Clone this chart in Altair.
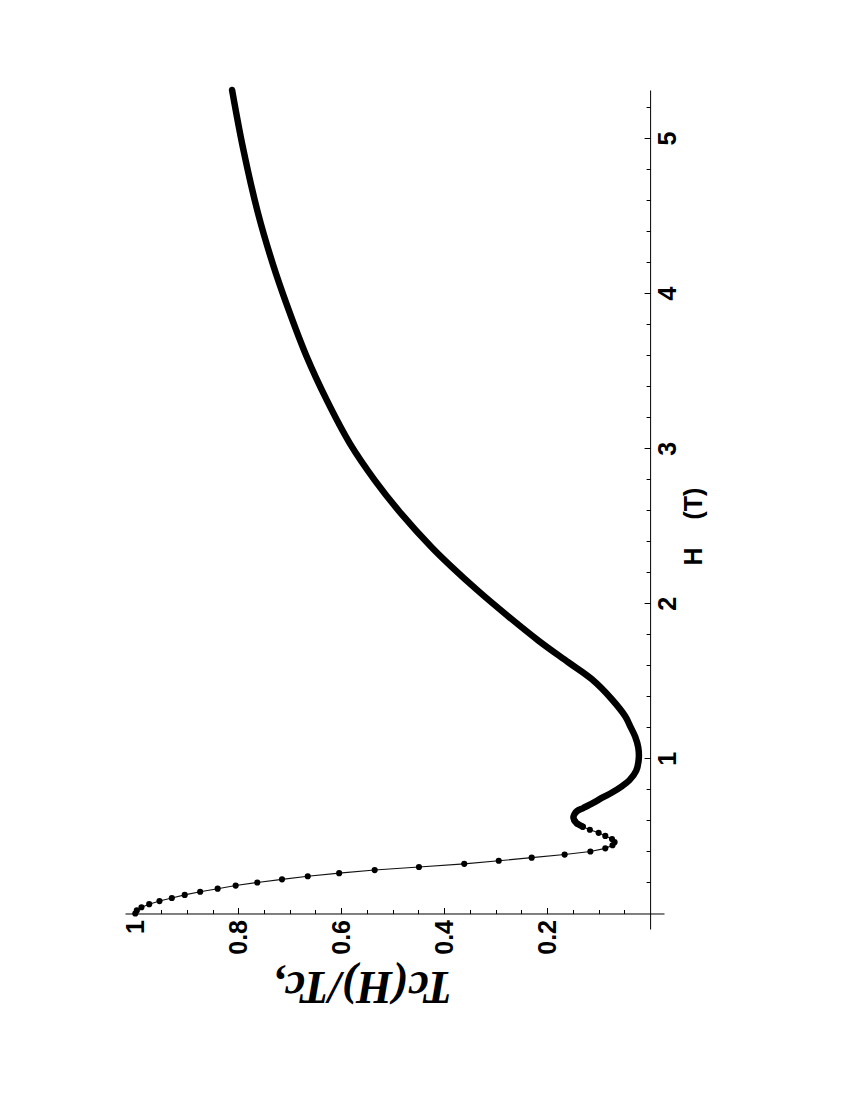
import altair as alt
import pandas as pd

# Individually visible sample points (low field part)
H_SPARSE = [0.00, 0.02, 0.04, 0.06, 0.08, 0.10, 0.12, 0.14, 0.16, 0.18, 0.20,
            0.22, 0.24, 0.26, 0.28, 0.30, 0.32, 0.34, 0.36, 0.38, 0.40, 0.42,
            0.44, 0.46, 0.48, 0.50, 0.52, 0.54, 0.56, 0.58, 0.60]
TC_SPARSE = [1.000, 0.997, 0.988, 0.973, 0.953, 0.929, 0.904, 0.874, 0.840, 0.805, 0.763,
             0.715, 0.665, 0.604, 0.535, 0.449, 0.361, 0.294, 0.230, 0.166, 0.116, 0.087,
             0.073, 0.069, 0.074, 0.087, 0.100, 0.117, 0.131, 0.142, 0.147]

# Densely sampled part (drawn as a thick continuous trace)
H_DENSE = [0.56, 0.58, 0.60, 0.62, 0.64, 0.66, 0.68, 0.70, 0.72, 0.75, 0.78, 0.82,
           0.86, 0.92, 1.00, 1.07, 1.14, 1.21, 1.27, 1.38, 1.51, 1.62, 1.76, 1.92,
           2.08, 2.24, 2.36, 2.58, 2.79, 3.03, 3.31, 3.59, 3.91, 4.19, 4.52, 4.94, 5.31]
TC_DENSE = [0.131, 0.142, 0.147, 0.149, 0.147, 0.142, 0.130, 0.118, 0.107, 0.091, 0.074, 0.055,
            0.040, 0.027, 0.022, 0.023, 0.029, 0.039, 0.048, 0.074, 0.113, 0.159, 0.217, 0.277,
            0.334, 0.387, 0.424, 0.484, 0.534, 0.583, 0.628, 0.667, 0.704, 0.733, 0.762, 0.791, 0.812]

TC_LABELS = [0.2, 0.4, 0.6, 0.8, 1.0]
TC_TICKS = [0.05, 0.10, 0.15, 0.20, 0.25, 0.30, 0.35, 0.40, 0.45, 0.50,
            0.55, 0.60, 0.65, 0.70, 0.75, 0.80, 0.85, 0.90, 0.95, 1.00]
H_LABELS = [1, 2, 3, 4, 5]
H_TICKS = [0.2, 0.4, 0.6, 0.8, 1.0, 1.2, 1.4, 1.6, 1.8, 2.0, 2.2, 2.4, 2.6,
           2.8, 3.0, 3.2, 3.4, 3.6, 3.8, 4.0, 4.2, 4.4, 4.6, 4.8, 5.0, 5.2]

sparse = pd.DataFrame({"H": H_SPARSE, "Tc": TC_SPARSE})
dense = pd.DataFrame({"H": H_DENSE, "Tc": TC_DENSE})

W, HGT = 539, 839
TC_MIN, TC_MAX = -0.027, 1.02
H_MIN, H_MAX = -0.1, 5.31
x_scale = alt.Scale(domain=[TC_MIN, TC_MAX], reverse=True, nice=False, zero=False)
y_scale = alt.Scale(domain=[H_MIN, H_MAX], nice=False, zero=False)

# pixel position of the axes crossing (Tc=0, H=0)
x0 = (TC_MAX - 0) / (TC_MAX - TC_MIN) * W
y0 = (H_MAX - 0) / (H_MAX - H_MIN) * HGT

LABEL_FONT = "Liberation Sans"
NB = "\u00a0"

axis_tc_labels = alt.Axis(
    orient="bottom", offset=-(HGT - y0), values=TC_LABELS, ticks=False, tickSize=0,
    domain=True, domainColor="black", domainWidth=1, grid=False,
    labelExpr="format(datum.value, '~g')",
    labelAngle=270, labelAlign="right", labelBaseline="middle", labelPadding=6,
    labelFont=LABEL_FONT, labelFontSize=25, labelFontWeight="bold", labelColor="black",
    labelFlush=False, labelOverlap=False, labelBound=False,
    title="Tc(H)/Tc,", titleAngle=180, titleX=362 - 125, titleY=985 - (90 + y0),
    titleAlign="center", titleBaseline="middle", titleFont="Liberation Serif",
    titleFontSize=46, titleFontStyle="italic", titleFontWeight="bold", titleColor="black",
)
axis_h_labels = alt.Axis(
    orient="right", offset=-(W - x0), values=H_LABELS, ticks=False, tickSize=0,
    domain=True, domainColor="black", domainWidth=1, grid=False,
    labelAngle=270, labelAlign="center", labelBaseline="top", labelPadding=5,
    labelFont=LABEL_FONT, labelFontSize=25, labelFontWeight="bold", labelColor="black",
    labelFlush=False, labelOverlap=False, labelBound=False,
    title="H" + NB * 4 + "(T)", titleAngle=270, titleX=693 - (125 + x0), titleY=526 - 90,
    titleAlign="center", titleBaseline="middle", titleFont=LABEL_FONT,
    titleFontSize=25, titleFontWeight="bold", titleColor="black",
)
axis_tc_ticks = alt.Axis(
    orient="top", offset=-y0, values=TC_TICKS, labels=False, domain=False, grid=False,
    ticks=True, tickColor="black", tickWidth=1,
    tickSize={"condition": {"test": "abs(datum.value*5 - round(datum.value*5)) < 0.001", "value": 6}, "value": 4},
    title=None,
)
axis_h_ticks = alt.Axis(
    orient="left", offset=-x0, values=H_TICKS, labels=False, domain=False, grid=False,
    ticks=True, tickColor="black", tickWidth=1,
    tickSize={"condition": {"test": "abs(datum.value - round(datum.value)) < 0.001", "value": 6}, "value": 4},
    title=None,
)

thick = alt.Chart(dense).mark_line(
    color="black", strokeWidth=6.5, interpolate="catmull-rom", strokeCap="round", strokeJoin="round"
).encode(
    x=alt.X("Tc:Q", scale=x_scale, axis=None),
    y=alt.Y("H:Q", scale=y_scale, axis=None),
    order="H:Q",
)

thin = alt.Chart(sparse).mark_line(color="#111111", strokeWidth=1.1).encode(
    x=alt.X("Tc:Q", scale=x_scale, axis=axis_tc_labels),
    y=alt.Y("H:Q", scale=y_scale, axis=axis_h_labels),
    order="H:Q",
)

dots = alt.Chart(sparse).mark_circle(size=38, color="black", opacity=1).encode(
    x=alt.X("Tc:Q", scale=x_scale, axis=axis_tc_ticks),
    y=alt.Y("H:Q", scale=y_scale, axis=axis_h_ticks),
)

chart = alt.layer(thick, thin, dots).resolve_axis(
    x="independent", y="independent"
).properties(
    width=W, height=HGT,
    padding={"left": 117, "top": 82, "right": 150, "bottom": 150},
    autosize=alt.AutoSizeParams(type="none"),
    background="white",
).configure_view(stroke=None)

chart.save("out.html", embed_options={"renderer": "svg", "actions": False})
